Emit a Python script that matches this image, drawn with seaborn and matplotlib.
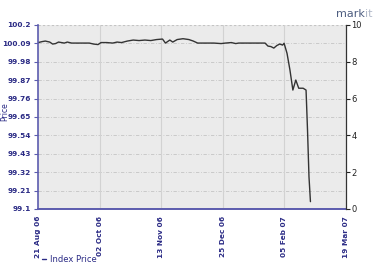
import matplotlib
matplotlib.use("Agg")
import matplotlib.pyplot as plt
import seaborn as sns
import pandas as pd
import numpy as np

dates = ["2006-08-21", "2006-08-24", "2006-08-26", "2006-08-29", "2006-08-31", "2006-09-02",
         "2006-09-04", "2006-09-06", "2006-09-08", "2006-09-10", "2006-09-13", "2006-09-18",
         "2006-09-25", "2006-09-28", "2006-10-01", "2006-10-03", "2006-10-07", "2006-10-11",
         "2006-10-14", "2006-10-17", "2006-10-21", "2006-10-25", "2006-10-29", "2006-11-02",
         "2006-11-06", "2006-11-10", "2006-11-14", "2006-11-16", "2006-11-19", "2006-11-21",
         "2006-11-24", "2006-11-28", "2006-12-02", "2006-12-05", "2006-12-08", "2006-12-13",
         "2006-12-19", "2006-12-24", "2006-12-27", "2006-12-31", "2007-01-03", "2007-01-05",
         "2007-01-12", "2007-01-19", "2007-01-23", "2007-01-25", "2007-01-27", "2007-01-29",
         "2007-01-31", "2007-02-02", "2007-02-04", "2007-02-05", "2007-02-07", "2007-02-09",
         "2007-02-11", "2007-02-13", "2007-02-15", "2007-02-18", "2007-02-20", "2007-02-21",
         "2007-02-22", "2007-02-23"]
index_price = [100.095, 100.101, 100.104, 100.098, 100.086, 100.089,
               100.098, 100.095, 100.092, 100.098, 100.092, 100.092,
               100.092, 100.086, 100.083, 100.095, 100.095, 100.092,
               100.098, 100.095, 100.104, 100.110, 100.107, 100.110,
               100.107, 100.113, 100.116, 100.092, 100.110, 100.098,
               100.113, 100.118, 100.113, 100.104, 100.092, 100.092,
               100.092, 100.089, 100.092, 100.095, 100.089, 100.092,
               100.092, 100.092, 100.092, 100.074, 100.071, 100.062,
               100.077, 100.086, 100.080, 100.091, 100.031, 99.931,
               99.811, 99.871, 99.822, 99.822, 99.811, 99.572,
               99.293, 99.144]

y_ticks = [99.1, 99.21, 99.32, 99.43, 99.54, 99.65, 99.76, 99.87, 99.98, 100.09, 100.2]
y_tick_labels = ["99.1", "99.21", "99.32", "99.43", "99.54", "99.65", "99.76", "99.87",
                 "99.98", "100.09", "100.2"]
x_tick_dates = ["2006-08-21", "2006-10-02", "2006-11-13", "2006-12-25", "2007-02-05", "2007-03-19"]
x_tick_labels = ["21 Aug 06", "02 Oct 06", "13 Nov 06", "25 Dec 06", "05 Feb 07", "19 Mar 07"]
right_ticks = [0, 2, 4, 6, 8, 10]

df = pd.DataFrame({"date": pd.to_datetime(dates), "price": index_price})

sns.set_style("white")
plt.rcParams["font.family"] = ["DejaVu Sans"]

navy = "#2b2b85"
axis_blue = "#5c5cae"

fig = plt.figure(figsize=(3.75, 2.7), dpi=100)
ax = fig.add_axes([38/375, 1 - 209/270, (345.6 - 38)/375, (209 - 25)/270])
ax.set_facecolor("#ebebeb")

sns.lineplot(data=df, x="date", y="price", ax=ax, color="#333333", linewidth=1.0,
             label="Index Price")

ax.set_xlim(pd.Timestamp("2006-08-21"), pd.Timestamp("2007-03-19"))
ax.set_ylim(99.1, 100.2)
ax.set_yticks(y_ticks)
ax.set_yticklabels(y_tick_labels)
ax.set_xticks(pd.to_datetime(x_tick_dates))
ax.set_xticklabels(x_tick_labels, rotation=90)
ax.tick_params(axis="both", labelsize=5.3, labelcolor=navy, color=axis_blue,
               length=3, width=0.8, direction="out", pad=2)
for lab in ax.get_yticklabels() + ax.get_xticklabels():
    lab.set_fontweight("bold")

for y in y_ticks[:-1]:
    ax.axhline(y, color="#c4c4c4", linewidth=0.6, linestyle=(0, (4, 2, 1, 2)), zorder=0)
ax.axhline(y_ticks[-1], color="#c4c4c4", linewidth=0.8, linestyle=(0, (2, 2)), zorder=0)
for d in pd.to_datetime(x_tick_dates)[1:-1]:
    ax.axvline(d, color="#d2d2d2", linewidth=0.8, zorder=0)

ax.set_xlabel("")
ax.set_ylabel("")
ax.spines["top"].set_visible(False)
ax.spines["right"].set_visible(False)
ax.spines["left"].set_color(axis_blue)
ax.spines["bottom"].set_color(axis_blue)
ax.spines["left"].set_linewidth(1.2)
ax.spines["bottom"].set_linewidth(1.4)

ax2 = ax.twinx()
ax2.set_ylim(0, 10)
ax2.set_yticks(right_ticks)
ax2.tick_params(axis="y", labelsize=6, labelcolor="#222222", color="#222222",
                length=3, width=0.8, pad=1)
for s in ["top", "left", "bottom"]:
    ax2.spines[s].set_visible(False)
ax2.spines["right"].set_color("#333333")
ax2.spines["right"].set_linewidth(0.9)

leg = ax.legend(loc="upper left", bbox_to_anchor=(0.0, -0.225), frameon=False,
                fontsize=6, handlelength=0.5, handletextpad=0.5, borderpad=0)
for t in leg.get_texts():
    t.set_color(navy)
for h in leg.get_lines():
    h.set_color(navy)
    h.set_linewidth(1.0)

fig.text(5/375, 0.585, "Price", rotation=90, ha="center", va="center", fontsize=5.5, color=navy)
fig.text(365/375, 1 - 14/270, "mark", fontsize=8, color="#4d5d80", ha="right", va="center")
fig.text(365/375, 1 - 14/270, "it", fontsize=8, color="#b0b8c8", ha="left", va="center")

fig.savefig("out.png", dpi=100)
